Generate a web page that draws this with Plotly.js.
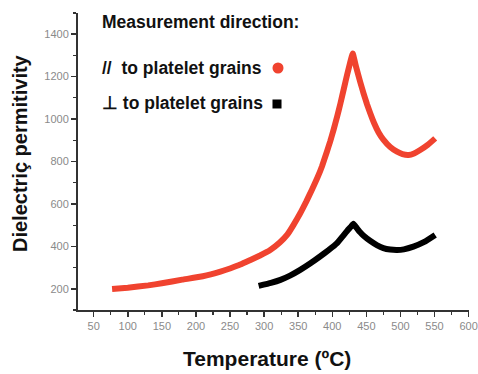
<!DOCTYPE html>
<html>
<head>
<meta charset="utf-8">
<script src="https://cdn.plot.ly/plotly-3.0.1.min.js"></script>
<style>html,body{margin:0;padding:0;background:#fff;}#chart{width:478px;height:374px;}</style>
</head>
<body>
<div id="chart"></div>
<script>
// Parallel to platelet grains (red)
const tempPar = [77,100,130,150,180,210,236,251,265,280,294,309,323,334,343,353,362,370,378,385,392,397,402,407,412,417,422,426,430,435,441,446,451,456,461,468,475,485,495,503,512,520,529,540,551];
const epsPar  = [199,205,216,226,243,259,281,297,314,336,357,383,418,455,500,556,612,666,722,778,845,895,950,1010,1074,1143,1212,1263,1309,1245,1175,1120,1070,1025,984,937,903,868,846,835,831,838,854,878,909];
// Perpendicular to platelet grains (black)
const tempPerp = [292,310,324,338,353,368,382,395,407,414,422,427,431,436,441,446,456,466,475,485,495,505,519,535,551];
const epsPerp  = [214,228,242,262,289,320,352,383,415,442,474,491,506,486,466,450,425,405,392,385,383,386,399,421,454];

const xTickVals = [50,100,150,200,250,300,350,400,450,500,550,600];
const yTickVals = [200,400,600,800,1000,1200,1400];

const xTitle = 'Temperature (ºC)';
const yTitle = 'Dielectriç permitivity';
const legendTitle = 'Measurement direction:';
const labelPar = '//  to platelet grains';
const labelPerp = '⊥ to platelet grains';

const FONT = 'Liberation Sans, Arial, sans-serif';
const RED = '#f0432f';

const traces = [
  {x: tempPar, y: epsPar, mode: 'lines', line: {color: RED, width: 6, shape: 'spline', smoothing: 0.3}, hoverinfo: 'skip', showlegend: false},
  {x: tempPerp, y: epsPerp, mode: 'lines', line: {color: '#000', width: 6, shape: 'spline', smoothing: 0.3}, hoverinfo: 'skip', showlegend: false}
];

const axCommon = {
  showline: true, linecolor: '#333', linewidth: 2, mirror: false,
  ticks: 'outside', ticklen: 5, tickwidth: 1.5, tickcolor: '#333',
  showgrid: false, zeroline: false,
  tickfont: {family: FONT, size: 11, color: '#8a8a8a'}
};

const layout = {
  width: 478, height: 374,
  margin: {l: 78, r: 9, t: 13, b: 64},
  paper_bgcolor: '#fff', plot_bgcolor: '#fff',
  font: {family: FONT},
  xaxis: Object.assign({}, axCommon, {range: [27, 600.6], tickmode: 'array', tickvals: xTickVals, ticktext: xTickVals.map(String),
    minor: {ticks: 'outside', ticklen: 3, tickwidth: 1.2, tickcolor: '#333', dtick: 50, tick0: 25}}),
  yaxis: Object.assign({}, axCommon, {range: [100, 1500], tickmode: 'array', tickvals: yTickVals, ticktext: yTickVals.map(String),
    minor: {ticks: 'outside', ticklen: 3, tickwidth: 1.2, tickcolor: '#333', dtick: 200, tick0: 100}}),
  annotations: [
    {text: '<b>' + xTitle + '</b>', xref: 'paper', yref: 'paper', x: 0.483, y: -0.162, xanchor: 'center', yanchor: 'middle', showarrow: false, font: {family: FONT, size: 21, color: '#111'}},
    {text: '<b>' + yTitle + '</b>', xref: 'paper', yref: 'paper', x: -0.148, y: 0.529, xanchor: 'center', yanchor: 'middle', textangle: -90, showarrow: false, font: {family: FONT, size: 20, color: '#111'}},
    {text: '<b>' + legendTitle + '</b>', xref: 'paper', yref: 'paper', x: 0.056, y: 0.970, xanchor: 'left', yanchor: 'middle', showarrow: false, font: {family: FONT, size: 17.5, color: '#111'}},
    {text: '<b>' + labelPar + '</b>', xref: 'paper', yref: 'paper', x: 0.056, y: 0.815, xanchor: 'left', yanchor: 'middle', showarrow: false, font: {family: FONT, size: 17.5, color: '#111'}},
    {text: '<b>' + labelPerp + '</b>', xref: 'paper', yref: 'paper', x: 0.056, y: 0.697, xanchor: 'left', yanchor: 'middle', showarrow: false, font: {family: FONT, size: 17.5, color: '#111'}}
  ],
  shapes: [
    {type: 'circle', xref: 'paper', yref: 'paper', x0: 0.4974, x1: 0.5256, y0: 0.7963, y1: 0.8333, fillcolor: RED, line: {width: 0}},
    {type: 'rect', xref: 'paper', yref: 'paper', x0: 0.4974, x1: 0.5205, y0: 0.6785, y1: 0.7088, fillcolor: '#000', line: {width: 0}}
  ]
};

Plotly.newPlot('chart', traces, layout, {staticPlot: true, displayModeBar: false});
</script>
</body>
</html>
